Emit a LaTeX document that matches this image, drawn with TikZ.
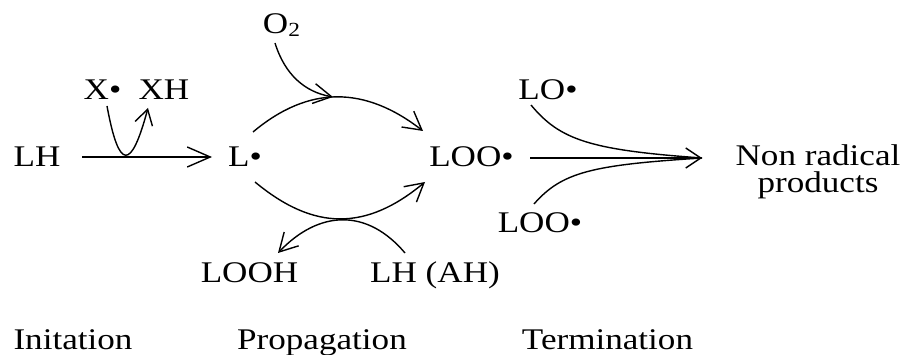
\documentclass[tikz,border=0pt]{standalone}
\usepackage{fontspec}
\setmainfont{Liberation Serif}
\usetikzlibrary{arrows.meta,calc}
\newcommand\Tx[1]{\scalebox{1.17}[1]{#1}}
\begin{document}
\begin{tikzpicture}[x=1pt,y=-1pt,
  lbl/.style={anchor=base, inner sep=0pt, font=\fontsize{30}{30}\selectfont},
  conn/.style={line width=1.4pt},
  bigtip/.style={-{Straight Barb[length=23pt,width=20pt,line width=1.4pt]}},
  midtip/.style={-{Straight Barb[length=18pt,width=20pt,line width=1.4pt]}},
  smalltip/.style={-{Straight Barb[length=15pt,width=20pt,line width=1.4pt]}},
  vtip/.style={-{Straight Barb[length=15pt,width=18pt,line width=1.4pt]}}]
\useasboundingbox (0,0) rectangle (908,355);
% labels
\node[lbl] (LH) at (37,167) {\Tx{LH}};
\node[lbl] (L) at (245,167) {\Tx{L\textbullet}};
\node[lbl] (LOO) at (471.5,167) {\Tx{LOO\textbullet}};
\node[lbl] (Xd) at (102.5,100) {\Tx{X\textbullet}};
\node[lbl] (XH) at (164,100) {\Tx{XH}};
\node[lbl] (O2) at (281.5,34) {\Tx{O\raisebox{-0.1em}{\fontsize{20}{20}\selectfont 2}}};
\node[lbl] (LO) at (548,100) {\Tx{LO\textbullet}};
\node[lbl] (LOOb) at (540,233) {\Tx{LOO\textbullet}};
\node[lbl, align=center, font=\fontsize{30}{27}\selectfont] (NR) at (818,193) {\Tx{Non radical}\\\Tx{products}};
\node[lbl] (LOOH) at (249.5,283) {\Tx{LOOH}};
\node[lbl] (LHAH) at (435,283) {\Tx{LH (AH)}};
\node[lbl] (Ini) at (73,350) {\Tx{Initation}};
\node[lbl] (Pro) at (322,350) {\Tx{Propagation}};
\node[lbl] (Ter) at (607.5,350) {\Tx{Termination}};
\coordinate (peak) at (333,97);
\coordinate (tp) at (702,158);
% initiation
\draw[conn,bigtip] ($(LH.base)+(45,-10)$) -- ($(L.base)+(-33,-10)$);
\draw[conn,vtip] ($(Xd.base)+(4.5,6)$) .. controls (119,171) and (131,171) .. ($(XH.base)+(-16,8)$);
% propagation
\draw[conn,midtip] ($(L.base)+(8,-35)$) .. controls (309,85) and (365,86) .. ($(LOO.base)+(-48.5,-36)$);
\draw[conn,midtip] ($(O2.base)+(-6.5,9)$) .. controls (285,75) and (305,92) .. (peak);
\draw[conn,midtip] ($(L.base)+(10,15)$) .. controls (314,231) and (366,231) .. ($(LOO.base)+(-46.5,15)$);
\draw[conn,midtip] ($(LHAH.base)+(-30,-30)$) .. controls (367,208) and (319,210) .. ($(LOOH.base)+(28.5,-30)$);
% termination
\draw[conn,smalltip] ($(LOO.base)+(58.5,-9)$) -- (tp);
\draw[conn] ($(LO.base)+(-17,5)$) .. controls (560,140) and (590,150) .. (tp);
\draw[conn] ($(LOOb.base)+(-6,-29)$) .. controls (562,172) and (592,165) .. (tp);
\end{tikzpicture}
\end{document}
